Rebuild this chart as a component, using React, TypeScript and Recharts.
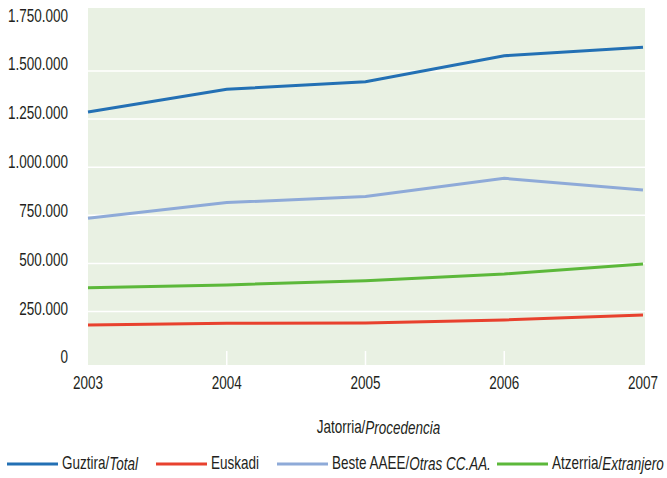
import React from 'react';
import { CartesianGrid, Line, LineChart, ReferenceLine, XAxis, YAxis } from 'recharts';

const years = ['2003', '2004', '2005', '2006', '2007'];
const guztira = [1287000, 1405000, 1444000, 1579000, 1623000];
const euskadi = [180000, 189000, 190000, 206000, 232000];
const besteAaee = [734000, 816000, 847000, 942000, 881000];
const atzerria = [374000, 388000, 410000, 445000, 497000];
const yTicks = [0, 250000, 500000, 750000, 1000000, 1250000, 1500000, 1750000];
const gridValues = [250000, 500000, 750000, 1000000, 1250000, 1500000];

// condensed look: Liberation Sans squeezed horizontally
const FONT = '"Liberation Sans", Arial, sans-serif';
const FONT_SIZE = 18;
const SQUEEZE = 0.75;
const INK = '#231f20';

const series = [
  { key: 'guztira', label: 'Guztira/', italic: 'Total', color: '#2370b4' },
  { key: 'euskadi', label: 'Euskadi', italic: '', color: '#e8412e' },
  { key: 'beste', label: 'Beste AAEE/', italic: 'Otras CC.AA.', color: '#8eaad8' },
  { key: 'atzerria', label: 'Atzerria/', italic: 'Extranjero', color: '#5cb83a' },
];
const legendX = [7, 156, 277, 497];

const data = years.map((year, i) => ({
  year,
  guztira: guztira[i],
  euskadi: euskadi[i],
  beste: besteAaee[i],
  atzerria: atzerria[i],
}));

const fmt = (v: number) => v.toLocaleString('de-DE');

function NText({ x, y, anchor = 'start', children }: any) {
  return (
    <text
      transform={`translate(${x},${y}) scale(${SQUEEZE},1)`}
      x={0}
      y={0}
      textAnchor={anchor}
      dominantBaseline="central"
      fill={INK}
      fontSize={FONT_SIZE}
      fontFamily={FONT}
    >
      {children}
    </text>
  );
}

function YTick({ x, y, payload }: any) {
  // labels sit a little above their grid lines in the original
  const dy = -2.5 - (payload.value / 1750000) * 5;
  return (
    <NText x={x} y={y + dy} anchor="end">
      {fmt(payload.value)}
    </NText>
  );
}

function XTick({ x, y, payload, index, visibleTicksCount }: any) {
  const inner = index > 0 && index < visibleTicksCount - 1;
  return (
    <g>
      {inner ? <line x1={x} x2={x} y1={y - 24} y2={y - 10} stroke="#ffffff" strokeWidth={1.5} /> : null}
      <NText x={x} y={y + 8} anchor="middle">
        {payload.value}
      </NText>
    </g>
  );
}

function AxisTitle({ viewBox }: any) {
  const cx = viewBox.x + viewBox.width / 2 + 12;
  return (
    <NText x={cx} y={427} anchor="middle">
      Jatorria/<tspan fontStyle="italic">Procedencia</tspan>
    </NText>
  );
}

export default function App() {
  return (
    <div style={{ position: 'absolute', left: 0, top: 0, width: 667, height: 478, background: '#fff' }}>
      <LineChart width={667} height={478} data={data} margin={{ top: 8, right: 22, left: 0, bottom: 83 }}>
        <CartesianGrid fill="#e9f1e3" stroke="none" horizontal={false} vertical={false} />
        {gridValues.map((v) => (
          <ReferenceLine key={v} y={v} stroke="#ffffff" strokeWidth={1.5} />
        ))}
        <XAxis
          dataKey="year"
          axisLine={false}
          tickLine={false}
          tickSize={0}
          tickMargin={10}
          height={30}
          padding={{ left: 0, right: 2 }}
          tick={<XTick />}
          label={<AxisTitle />}
        />
        <YAxis
          width={88}
          domain={[-28000, 1827000]}
          ticks={yTicks}
          axisLine={false}
          tickLine={false}
          tickSize={0}
          tickMargin={20}
          tick={<YTick />}
          allowDataOverflow
        />
        {series.map((s) => (
          <Line
            key={s.key}
            dataKey={s.key}
            stroke={s.color}
            strokeWidth={3}
            dot={false}
            activeDot={false}
            isAnimationActive={false}
          />
        ))}
      </LineChart>
      <svg width={667} height={30} style={{ position: 'absolute', left: 0, top: 450 }}>
        {series.map((s, i) => (
          <g key={s.key}>
            <line x1={legendX[i]} x2={legendX[i] + 51} y1={14} y2={14} stroke={s.color} strokeWidth={3} />
            <NText x={legendX[i] + 55} y={13}>
              {s.label}
              {s.italic ? <tspan fontStyle="italic">{s.italic}</tspan> : null}
            </NText>
          </g>
        ))}
      </svg>
    </div>
  );
}
